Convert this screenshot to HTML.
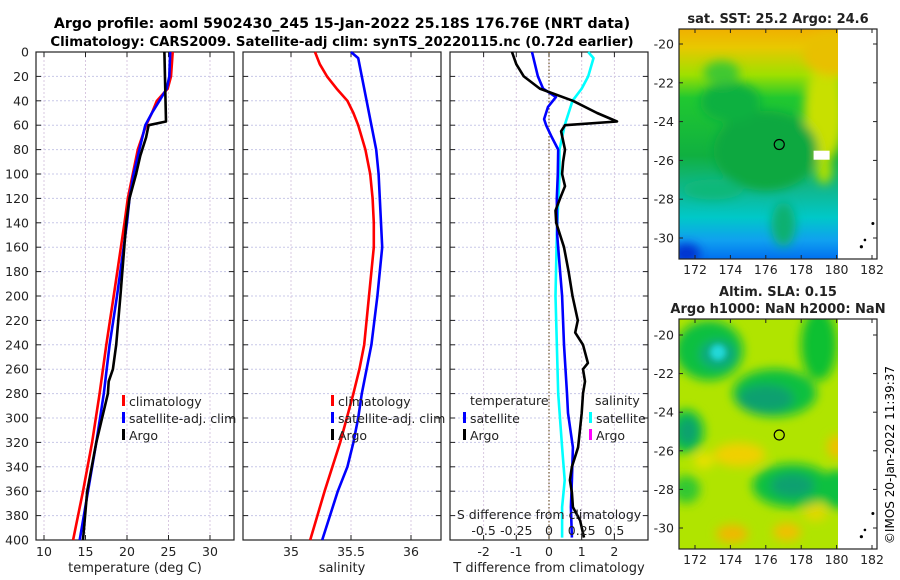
<!DOCTYPE html>
<html><head><meta charset="utf-8"><style>
html,body{margin:0;padding:0;background:#fff}
svg{display:block;font-family:"DejaVu Sans","Liberation Sans",sans-serif}
</style></head><body>
<svg id="chart" width="900" height="580" viewBox="0 0 900 580">
<defs>
<filter id="blur6" x="-50%" y="-50%" width="200%" height="200%"><feGaussianBlur stdDeviation="5"/></filter>
<filter id="blur3" x="-50%" y="-50%" width="200%" height="200%"><feGaussianBlur stdDeviation="3"/></filter>
<clipPath id="clipSST"><rect x="679" y="29" width="159" height="230"/></clipPath>
<clipPath id="clipSLA"><rect x="679" y="319" width="159" height="230"/></clipPath>
<linearGradient id="sstGrad" x1="0" y1="0" x2="0" y2="1">
<stop offset="0" stop-color="#f0b000"/><stop offset="0.08" stop-color="#e8c800"/>
<stop offset="0.2" stop-color="#9ee000"/><stop offset="0.3" stop-color="#20c830"/>
<stop offset="0.55" stop-color="#10b040"/><stop offset="0.7" stop-color="#10b890"/>
<stop offset="0.82" stop-color="#00c8c8"/><stop offset="0.92" stop-color="#10a0f0"/>
<stop offset="1" stop-color="#0070f0"/></linearGradient>
</defs>
<text x="342" y="28" text-anchor="middle" font-size="14.2" font-weight="bold">Argo profile: aoml 5902430_245 15-Jan-2022 25.18S 176.76E (NRT data)</text>
<text x="342" y="46" text-anchor="middle" font-size="13.3" font-weight="bold">Climatology: CARS2009. Satellite-adj clim: synTS_20220115.nc (0.72d earlier)</text>
<g id="panels"></g>
<g id="maps"></g>
<text transform="translate(894,455) rotate(-90)" text-anchor="middle" font-size="12">©IMOS 20-Jan-2022 11:39:37</text>
</svg>
<script>
// ---------- data ----------
const depthTicks=[0,20,40,60,80,100,120,140,160,180,200,220,240,260,280,300,320,340,360,380,400];
const tempTicks=[10,15,20,25,30];
const salTicks=[35,35.5,36];
const tdiffTicks=[-2,-1,0,1,2];
const sdiffTicks=[-0.5,-0.25,0,0.25,0.5];
const sdiffTickLabels=["-0.5","-0.25","0","0.25","0.5"];

const climTDepth=[0,20,30,40,50,60,80,100,120,140,200,240,280,320,360,400];
const climT=[25.5,25.3,24.9,23.6,23.0,22.3,21.3,20.7,20.1,19.7,18.4,17.5,16.7,15.8,14.7,13.5];
const satTDepth=[0,20,30,40,50,60,80,100,120,140,200,240,280,320,360,400];
const satT=[25.2,25.1,24.8,23.9,23.0,22.2,21.5,20.8,20.3,20.0,18.8,17.9,17.2,16.3,15.3,14.3];
const argoTDepth=[0,57,60,70,85,100,110,120,140,200,240,260,270,280,320,360,400];
const argoT=[24.5,24.7,22.6,22.3,21.6,21.1,20.7,20.3,19.9,19.2,18.7,18.3,17.8,17.7,16.3,15.2,14.7];

const climSDepth=[0,10,20,30,40,50,60,80,100,120,140,160,200,240,260,280,320,360,400];
const climS=[35.2,35.24,35.3,35.38,35.47,35.52,35.56,35.62,35.66,35.68,35.69,35.69,35.65,35.61,35.57,35.52,35.41,35.28,35.16];
const satSDepth=[0,5,20,40,60,80,100,140,160,200,240,280,300,320,340,360,400];
const satS=[35.5,35.56,35.59,35.63,35.67,35.71,35.73,35.75,35.76,35.72,35.67,35.59,35.56,35.52,35.47,35.39,35.26];

const argoDTDepth=[0,10,20,30,40,50,57,60,65,80,90,100,110,120,130,140,150,160,180,200,220,230,240,255,260,270,280,296,324,340,351,361,373,384,398];
const argoDT=[-1.13,-1.0,-0.77,-0.28,0.73,1.47,2.08,0.49,0.37,0.49,0.43,0.4,0.49,0.34,0.2,0.22,0.34,0.46,0.6,0.72,0.88,0.8,1.04,1.19,1.04,1.1,1.04,1.0,0.89,0.7,0.64,0.7,0.73,0.95,1.07];
const satDTDepth=[0,20,30,37,45,55,60,70,80,100,120,150,180,200,240,280,296,324,351,373,398];
const satDT=[-0.52,-0.34,-0.18,0.21,-0.03,-0.15,-0.09,0.09,0.28,0.27,0.24,0.25,0.34,0.4,0.46,0.55,0.58,0.73,0.7,0.67,0.7];
const satDSDepth=[0,5,20,30,40,50,60,80,100,150,200,280,324,351,373,398];
const satDS=[0.3,0.34,0.3,0.25,0.18,0.15,0.12,0.08,0.08,0.06,0.05,0.07,0.1,0.12,0.1,0.1];

// ---------- scales ----------
const Y0=52, Y1=540;
const yD=d=>Y0+d*1.22;
const xT=t=>44+(t-10)*8.3;
const xS=s=>291+(s-35)*120;
const xDT=v=>549+v*32.7;
const xDS=v=>549+v*130.8;

const NS="http://www.w3.org/2000/svg";
const panels=document.getElementById('panels');
function el(tag,attrs,parent){const e=document.createElementNS(NS,tag);for(const k in attrs)e.setAttribute(k,attrs[k]);(parent||panels).appendChild(e);return e;}
function txt(x,y,s,size,anchor,parent){const t=el('text',{x:x,y:y,'font-size':size||12,'text-anchor':anchor||'middle',fill:'#222'},parent);t.textContent=s;return t;}

function panel(x0,x1,name,xticks,xf,labels,title){
  const g=el('g',{});
  
  
  depthTicks.forEach(d=>{
    const l=el('line',{x1:x0,x2:x1,y1:yD(d),y2:yD(d),stroke:'#c8c8e8','stroke-width':1,'stroke-dasharray':'2,2'},g);
    
    
    el('line',{x1:x0,x2:x0+5,y1:yD(d),y2:yD(d),stroke:'#222'},g);
    el('line',{x1:x1-5,x2:x1,y1:yD(d),y2:yD(d),stroke:'#222'},g);
  });
  xticks.forEach((v,i)=>{
    const x=xf(v);
    const l=el('line',{x1:x,x2:x,y1:Y0,y2:Y1,stroke:'#d8c8e0','stroke-width':1,'stroke-dasharray':'2,2'},g);
    
    
    if(labels){
      el('line',{x1:x,x2:x,y1:Y1-5,y2:Y1,stroke:'#222'},g);
      el('line',{x1:x,x2:x,y1:Y0,y2:Y0+5,stroke:'#222'},g);
      const t=txt(x,556,labels[i],12.5,'middle',g);
      
      
    }
  });
  el('rect',{x:x0,y:Y0,width:x1-x0,height:Y1-Y0,fill:'none',stroke:'#222','stroke-width':1.2},g);
  const at=txt((x0+x1)/2,572,title,13,'middle',g);
  
  
  return g;
}
function line(g,xs,ds,xf,color,name){
  const pts=xs.map((v,i)=>xf(v).toFixed(1)+','+yD(ds[i]).toFixed(1)).join(' ');
  const p=el('polyline',{points:pts,fill:'none',stroke:color,'stroke-width':2.6,'stroke-linejoin':'round'},g);
  
  
}
function legend(g,x,y,color,label){
  el('rect',{x:x,y:y-11,width:3,height:11,fill:color},g);
  const t=txt(x+7,y,label,12.5,'start',g);
  
  
}

// Panel 1
const p1=panel(36,234,'temperature-panel',tempTicks,xT,tempTicks.map(String),'temperature (deg C)');
depthTicks.forEach(d=>{const t=txt(29,yD(d)+4.5,String(d),12.5,'end',p1);

});
line(p1,climT,climTDepth,xT,'#ff0000','climatology-temp-line');
line(p1,satT,satTDepth,xT,'#0000ff','satellite-temp-line');
line(p1,argoT,argoTDepth,xT,'#000000','argo-temp-line');
legend(p1,122,406,'#ff0000','climatology');
legend(p1,122,423,'#0000ff','satellite-adj. clim');
legend(p1,122,440,'#000000','Argo');

// Panel 2
const p2=panel(243,441,'salinity-panel',salTicks,xS,["35","35.5","36"],'salinity');
line(p2,climS,climSDepth,xS,'#ff0000','climatology-sal-line');
line(p2,satS,satSDepth,xS,'#0000ff','satellite-sal-line');
legend(p2,331,406,'#ff0000','climatology');
legend(p2,331,423,'#0000ff','satellite-adj. clim');
legend(p2,331,440,'#000000','Argo');

// Panel 3
const p3=panel(450,648,'difference-panel',tdiffTicks,xDT,tdiffTicks.map(String),'T difference from climatology');
const zl=el('line',{x1:xDT(0),x2:xDT(0),y1:Y0,y2:Y1,stroke:'#705830','stroke-width':1.2,'stroke-dasharray':'1.5,2'},p3);


line(p3,satDS,satDSDepth,xDS,'#00ffff','satellite-sal-diff-line');
line(p3,satDT,satDTDepth,xDT,'#0000ff','satellite-temp-diff-line');
line(p3,argoDT,argoDTDepth,xDT,'#000000','argo-temp-diff-line');
const th=txt(470,405,'temperature',12.5,'start',p3);


legend(p3,463,423,'#0000ff','satellite');
legend(p3,463,440,'#000000','Argo');
const sh=txt(595,405,'salinity',12.5,'start',p3);


legend(p3,589,423,'#00ffff','satellite');
legend(p3,589,440,'#ff00ff','Argo');
const st=txt(549,519,'S difference from climatology',12.5,'middle',p3);


sdiffTicks.forEach((v,i)=>{const t=txt(xDS(v),535,sdiffTickLabels[i],12.5,'middle',p3);

});

// ---------- maps ----------
const maps=document.getElementById('maps');
const lonTicks=[172,174,176,178,180,182];
const latTicks=[-20,-22,-24,-26,-28,-30];
const xLon=l=>695+(l-172)*17.7;
function mapFrame(name){
  const g=el('g',{},maps);
  
  
  return g;
}
function mapAxes(g,top,bottom,yLat){
  el('rect',{x:679,y:top,width:198,height:bottom-top,fill:'none',stroke:'#222','stroke-width':1.2},g);
  latTicks.forEach(l=>{const y=yLat(l);
    el('line',{x1:679,x2:683,y1:y,y2:y,stroke:'#222'},g);
    el('line',{x1:873,x2:877,y1:y,y2:y,stroke:'#222'},g);
    const t=txt(674,y+4.5,String(l),12.5,'end',g);
    
    });
  lonTicks.forEach(l=>{const x=xLon(l);
    el('line',{x1:x,x2:x,y1:bottom-4,y2:bottom,stroke:'#222'},g);
    el('line',{x1:x,x2:x,y1:top,y2:top+4,stroke:'#222'},g);
    const t=txt(x,bottom+15,String(l),12.5,'middle',g);
    
    });
  el('circle',{cx:xLon(182.05),cy:yLat(-29.25),r:1.5,fill:'#000'},g);
  el('circle',{cx:xLon(181.6),cy:yLat(-30.1),r:1.3,fill:'#000'},g);
  el('circle',{cx:xLon(181.4),cy:yLat(-30.45),r:1.6,fill:'#000'},g);
}
// SST map
const yLat1=l=>44+(-20-l)*19.4;
const g1=mapFrame('sst-map');
const s1=el('g',{'clip-path':'url(#clipSST)'},g1);
el('rect',{x:679,y:29,width:159,height:230,fill:'url(#sstGrad)'},s1);
const b1=el('g',{filter:'url(#blur6)'},s1);
[[179.3,-23.5,20,50,'#c8e000'],[179.8,-20.5,30,22,'#e8c000'],[176,-25.5,52,40,'#10a840'],
 [174,-23,30,20,'#10b040'],[173.5,-21.5,18,12,'#40c830'],[171.5,-30.8,14,10,'#0030d0'],
 [177,-29.3,12,22,'#10b070'],[173,-27.5,30,10,'#10b878'],[179.3,-26.5,8,14,'#b0e000']
].forEach(b=>el('ellipse',{cx:xLon(b[0]),cy:yLat1(b[1]),rx:b[2],ry:b[3],fill:b[4]},b1));
el('rect',{x:xLon(178.7),y:yLat1(-25.5),width:16,height:9,fill:'#fff'},s1);
const c1=el('circle',{cx:xLon(176.76),cy:yLat1(-25.18),r:5,fill:'none',stroke:'#000','stroke-width':1.2},g1);


mapAxes(g1,29,259,yLat1);
const t1=txt(778,23,'sat. SST: 25.2 Argo: 24.6',13,'middle',g1);
t1.setAttribute('font-weight','bold');



// SLA map
const yLat2=l=>335+(-20-l)*19.3;
const g2=mapFrame('sla-map');
const s2=el('g',{'clip-path':'url(#clipSLA)'},g2);
el('rect',{x:679,y:319,width:159,height:230,fill:'#b0e400'},s2);
const b2=el('g',{filter:'url(#blur6)'},s2);
[[172.8,-20.8,34,30,'#10c040'],[176.5,-23,42,24,'#10c040'],[179,-20.5,18,36,'#10c030'],
 [171.5,-25,18,22,'#10c040'],[177.5,-27.8,40,22,'#10c040'],[180,-28,16,20,'#10c040'],[171.5,-28,14,14,'#30c830'],
 [173.3,-21,18,14,'#10a880'],[176,-23.3,28,14,'#10a070'],[177.5,-27.8,22,12,'#10a070'],[171.6,-25,10,14,'#10a070'],
 [174.5,-26.2,26,12,'#f0d000'],[177.2,-30.2,14,9,'#f0c000'],[174.1,-30.3,16,9,'#f0b800'],[180,-25.8,9,12,'#f0c000'],[178.8,-29.2,12,9,'#e0d800'],[172.5,-26.5,10,8,'#e8e000']
].forEach(b=>el('ellipse',{cx:xLon(b[0]),cy:yLat2(b[1]),rx:b[2],ry:b[3],fill:b[4]},b2));
el('ellipse',{cx:xLon(173.3),cy:yLat2(-20.9),rx:8,ry:8,fill:'#20d8d8',filter:'url(#blur3)'},s2);
const c2=el('circle',{cx:xLon(176.76),cy:yLat2(-25.18),r:5,fill:'none',stroke:'#000','stroke-width':1.2},g2);


mapAxes(g2,319,549,yLat2);
const t2=txt(778,296,'Altim. SLA: 0.15',13,'middle',g2);
t2.setAttribute('font-weight','bold');


const t3=txt(778,313,'Argo h1000: NaN h2000: NaN',13,'middle',g2);
t3.setAttribute('font-weight','bold');


</script>
</body></html>
